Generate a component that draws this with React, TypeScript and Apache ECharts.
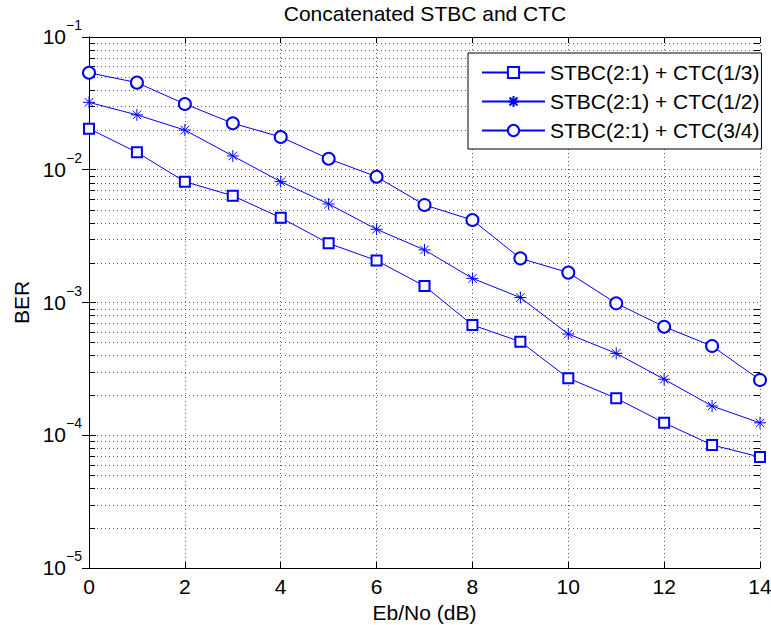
import React, { useEffect, useRef } from "react";
import * as echarts from "echarts";

const ebNo = [0, 1, 2, 3, 4, 5, 6, 7, 8, 9, 10, 11, 12, 13, 14];
const berRate13 = [0.0204, 0.01353, 0.00813, 0.00637, 0.00435, 0.00279, 0.00207, 0.00133, 0.000677, 0.000507, 0.000269, 0.00019, 0.000124, 0.0000845, 0.0000686];
const berRate12 = [0.0322, 0.0259, 0.0199, 0.0127, 0.00813, 0.00552, 0.00356, 0.00249, 0.00152, 0.00109, 0.000579, 0.000414, 0.000264, 0.000166, 0.000124];
const berRate34 = [0.0538, 0.0453, 0.0313, 0.0224, 0.01765, 0.0121, 0.00886, 0.00543, 0.00418, 0.00215, 0.00168, 0.000986, 0.000657, 0.00047, 0.000261];
const seriesNames = ["STBC(2:1) + CTC(1/3)", "STBC(2:1) + CTC(1/2)", "STBC(2:1) + CTC(3/4)"];
const minorTickValues = [
  2e-5, 3e-5, 4e-5, 5e-5, 6e-5, 7e-5, 8e-5, 9e-5,
  2e-4, 3e-4, 4e-4, 5e-4, 6e-4, 7e-4, 8e-4, 9e-4,
  2e-3, 3e-3, 4e-3, 5e-3, 6e-3, 7e-3, 8e-3, 9e-3,
  2e-2, 3e-2, 4e-2, 5e-2, 6e-2, 7e-2, 8e-2, 9e-2,
];
const X_MIN = 0;
const X_MAX = 14;
const Y_MIN = 1e-5;
const Y_MAX = 1e-1;

const FONT = "'Liberation Sans', Arial, Helvetica, sans-serif";
const FS = 21;
const BLUE = "#0000ff";
const STAR = "path://M0,-6L0,6M-6,0L6,0M-4.24,-4.24L4.24,4.24M-4.24,4.24L4.24,-4.24";

export default function App() {
  const ref = useRef<HTMLDivElement>(null);
  useEffect(() => {
    if (!ref.current) return;
    const chart = echarts.init(ref.current, null, { renderer: "svg" });
    const dotted = { color: "#444", width: 0.9, type: [1, 3] as any };
    const pair = (ys: number[]) => ebNo.map((x, i) => [x, ys[i]]);
    chart.setOption({
      animation: false,
      backgroundColor: "#fff",
      textStyle: { fontFamily: FONT, color: "#000" },
      title: {
        text: "Concatenated STBC and CTC",
        left: 425,
        top: 3,
        padding: 0,
        textAlign: "center",
        textStyle: { fontSize: FS, fontWeight: "normal", color: "#000", fontFamily: FONT },
      },
      legend: {
        data: seriesNames,
        orient: "vertical",
        left: 468,
        top: 53,
        backgroundColor: "#fff",
        borderColor: "#000",
        borderWidth: 1,
        borderRadius: 0,
        padding: [9, 2, 8, 13],
        itemGap: 8,
        itemWidth: 63,
        itemHeight: 14,
        textStyle: { fontSize: FS, lineHeight: 20, color: "#000", fontFamily: FONT },
      },
      grid: { left: 89, right: 11, top: 37, bottom: 57, containLabel: false, outerBoundsMode: "none" },
      xAxis: [
        {
          type: "value",
          min: X_MIN,
          max: X_MAX,
          interval: 2,
          name: "Eb/No (dB)",
          nameLocation: "middle",
          nameGap: 31,
          nameTextStyle: { fontSize: FS, color: "#000", fontFamily: FONT },
          axisLine: { show: true, lineStyle: { color: "#000", width: 1 } },
          axisTick: { show: true, inside: true, length: 6, lineStyle: { color: "#000" } },
          axisLabel: { fontSize: FS, color: "#000", margin: 8, fontFamily: FONT },
          splitLine: { show: true, lineStyle: dotted },
        },
        {
          type: "value",
          position: "top",
          min: X_MIN,
          max: X_MAX,
          interval: 2,
          axisLine: { show: true, lineStyle: { color: "#000", width: 1 } },
          axisTick: { show: true, inside: true, length: 6, lineStyle: { color: "#000" } },
          axisLabel: { show: false },
          splitLine: { show: false },
        },
      ],
      yAxis: [
        {
          type: "log",
          logBase: 10,
          min: Y_MIN,
          max: Y_MAX,
          name: "BER",
          nameLocation: "middle",
          nameGap: 54,
          nameTextStyle: { fontSize: FS, color: "#000", fontFamily: FONT },
          axisLine: { show: true, lineStyle: { color: "#000", width: 1 } },
          axisTick: { show: true, inside: true, length: 7, lineStyle: { color: "#000" } },
          axisLabel: {
            margin: 7,
            formatter: (v: number) => {
              const e = Math.round(Math.log10(v));
              return `{b|10}{s|${e < 0 ? "\u2212" : ""}${Math.abs(e)}}`;
            },
            rich: {
              b: { fontSize: FS, lineHeight: 20, color: "#000", fontFamily: FONT, verticalAlign: "bottom", padding: [0, 0, 0, 0] },
              s: { fontSize: 14, lineHeight: 14, color: "#000", fontFamily: FONT, verticalAlign: "bottom", padding: [0, 0, 15, 0] },
            },
          },
          splitLine: { show: true, lineStyle: dotted },
        },
        {
          type: "log",
          logBase: 10,
          min: Y_MIN,
          max: Y_MAX,
          position: "right",
          axisLine: { show: true, lineStyle: { color: "#000", width: 1 } },
          axisTick: { show: true, inside: true, length: 7, lineStyle: { color: "#000" } },
          axisLabel: { show: false },
          splitLine: { show: false },
        },
      ],
      series: [
        {
          type: "custom",
          name: "minorGrid",
          xAxisIndex: 0,
          yAxisIndex: 0,
          silent: true,
          z: 1,
          encode: { x: 0, y: 1 },
          data: minorTickValues.map((v) => [X_MIN, v]),
          renderItem: (params: any, api: any) => {
            const v = api.value(1);
            const a = api.coord([X_MIN, v]);
            const b = api.coord([X_MAX, v]);
            const y = Math.round(a[1]) + 0.5;
            return {
              type: "group",
              children: [
                { type: "line", shape: { x1: a[0], y1: y, x2: b[0], y2: y }, style: { stroke: "#444", lineWidth: 0.9, lineDash: [1, 3] } },
                { type: "line", shape: { x1: a[0], y1: y, x2: a[0] + 6, y2: y }, style: { stroke: "#000", lineWidth: 1 } },
                { type: "line", shape: { x1: b[0] - 6, y1: y, x2: b[0], y2: y }, style: { stroke: "#000", lineWidth: 1 } },
              ],
            };
          },
        },
        {
          type: "line",
          name: seriesNames[0],
          z: 3,
          data: pair(berRate13),
          symbol: "emptyRect",
          symbolSize: 10,
          lineStyle: { color: BLUE, width: 1 },
          itemStyle: { color: BLUE, borderWidth: 1 },
        },
        {
          type: "line",
          name: seriesNames[1],
          z: 3,
          data: pair(berRate12),
          symbol: STAR,
          symbolSize: 12,
          lineStyle: { color: BLUE, width: 1 },
          itemStyle: { color: BLUE, borderColor: BLUE, borderWidth: 1 },
        },
        {
          type: "line",
          name: seriesNames[2],
          z: 3,
          data: pair(berRate34),
          symbol: "emptyCircle",
          symbolSize: 12,
          lineStyle: { color: BLUE, width: 1 },
          itemStyle: { color: BLUE, borderWidth: 1 },
        },
      ],
    });
    return () => chart.dispose();
  }, []);
  return <div ref={ref} style={{ width: 771, height: 625, position: "absolute", left: 0, top: 0 }} />;
}
